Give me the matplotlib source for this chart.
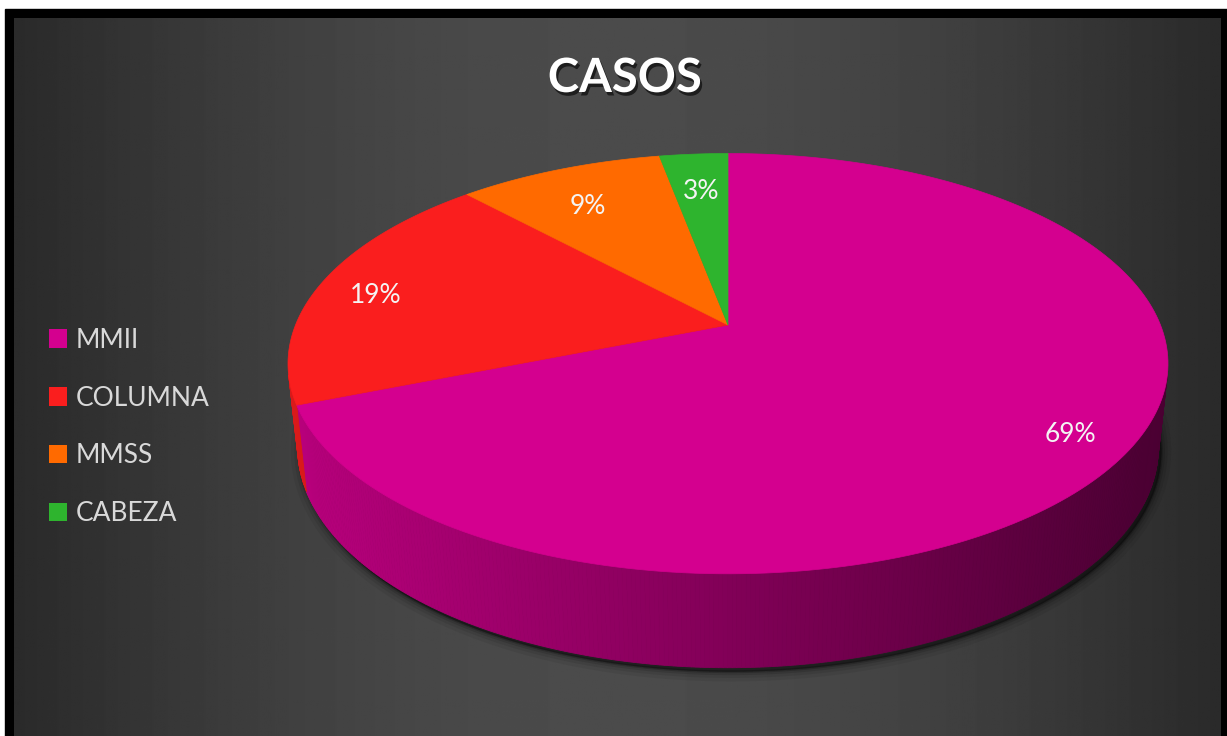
import numpy as np
import matplotlib.pyplot as plt
import matplotlib.patheffects as pe
from matplotlib.patches import Polygon, Rectangle, Patch
from matplotlib.colors import to_rgb

plt.rcParams['font.family'] = ['Lato', 'DejaVu Sans']

# data
title = 'CASOS'
categories = ['MMII', 'COLUMNA', 'MMSS', 'CABEZA']
values = [69, 19, 9, 3]
colors = ['#d4008f', '#fa1e1e', '#ff6a00', '#2eb42e']

W, H = 1227, 736
fig = plt.figure(figsize=(W / 100, H / 100), dpi=100, facecolor='white')
ax = fig.add_axes([0, 0, 1, 1])
ax.set_xlim(0, W)
ax.set_ylim(H, 0)
ax.axis('off')

# black frame + dark gradient background
ax.add_patch(Rectangle((5, 9), W - 5, H - 9, color='black', zorder=0))
xx = np.linspace(-1, 1, 600)
g = 0.165 + 0.13 * np.cos(xx * np.pi / 2)
grad = np.tile(g, (10, 1))
ax.imshow(grad, cmap='gray', vmin=0, vmax=1, extent=(14, 1221, H, 18),
          aspect='auto', zorder=0.5)

# --- 3d pie (simple perspective projection) ---
elev = np.radians(28)
dist = 4.8
thick = 0.22
cx, cy = 728, 325
ce, se = np.cos(elev), np.sin(elev)


def proj(px, py, pz, scale):
    d = dist + py * ce - pz * se
    return cx + scale * px / d, cy - scale * (py * se + pz * ce) / d


tt = np.linspace(0, 2 * np.pi, 721)
x_unit, _ = proj(np.cos(tt), np.sin(tt), 0 * tt, 1.0)
scale = 440 / np.max(np.abs(x_unit - cx))

total = sum(values)
bounds = 90 - np.concatenate([[0], np.cumsum(values)]) / total * 360

# shadow under the pie
bx, by = proj(np.cos(tt), np.sin(tt), -thick + 0 * tt, scale)
for lw, a in [(14, 0.06), (9, 0.08), (5, 0.12), (2, 0.2)]:
    ax.add_patch(Polygon(np.column_stack([bx + 3, by + 4]), closed=True,
                         facecolor='black', edgecolor='black', lw=lw,
                         alpha=a, zorder=1))

# visible part of the side wall
a_vis = np.degrees(np.arcsin(1 / (dist * ce)))
vis_lo, vis_hi = -180 + a_vis, -a_vis
xl, xr = cx - 440, cx + 440
for i in range(len(values)):
    lo = max(bounds[i + 1], vis_lo)
    hi = min(bounds[i], vis_hi)
    if lo >= hi:
        continue
    base = np.array(to_rgb(colors[i]))
    ts = np.radians(np.linspace(lo, hi, max(int((hi - lo) * 2), 2)))
    for t0, t1 in zip(ts[:-1], ts[1:]):
        p = [proj(np.cos(t0), np.sin(t0), 0, scale),
             proj(np.cos(t1), np.sin(t1), 0, scale),
             proj(np.cos(t1), np.sin(t1), -thick, scale),
             proj(np.cos(t0), np.sin(t0), -thick, scale)]
        u = (p[0][0] - xl) / (xr - xl)
        f = 0.87 - 0.52 * u
        col = base * f
        ax.add_patch(Polygon(p, closed=True, facecolor=col, edgecolor=col,
                             lw=0.6, zorder=2))

# top surface
for i in range(len(values)):
    ts = np.radians(np.linspace(bounds[i], bounds[i + 1], 200))
    px, py = proj(np.cos(ts), np.sin(ts), 0 * ts, scale)
    pts = np.vstack([[cx, cy], np.column_stack([px, py])])
    ax.add_patch(Polygon(pts, closed=True, facecolor=colors[i],
                         edgecolor=colors[i], lw=0.5, zorder=3))

# percent labels
label_r = [0.87, 0.85, 0.75, 0.75]
label_shift = [0, 2.6, 2, 0]
for i, v in enumerate(values):
    tm = np.radians((bounds[i] + bounds[i + 1]) / 2 + label_shift[i])
    lx, ly = proj(label_r[i] * np.cos(tm), label_r[i] * np.sin(tm), 0, scale)
    ax.text(lx, ly, f'{v / total * 100:.0f}%', color='#f4f4f4', fontsize=19,
            ha='center', va='center', zorder=4)

# title
ax.text(625, 78, title, color='white', fontsize=34, fontweight='bold',
        ha='center', va='center', zorder=4,
        path_effects=[pe.withSimplePatchShadow(offset=(1.5, -2.5),
                                               shadow_rgbFace='black',
                                               alpha=0.6)])

# legend
handles = [Patch(facecolor=c, edgecolor='none') for c in colors]
ax.legend(handles, categories, loc='center left',
          bbox_to_anchor=(49 / W, 1 - 427 / H), frameon=False, fontsize=19,
          labelcolor='#d9d9d9', handlelength=0.7, handleheight=0.7,
          handletextpad=0.3, labelspacing=1.25, borderpad=0, borderaxespad=0)

fig.savefig('out.png', dpi=100, facecolor='white')
